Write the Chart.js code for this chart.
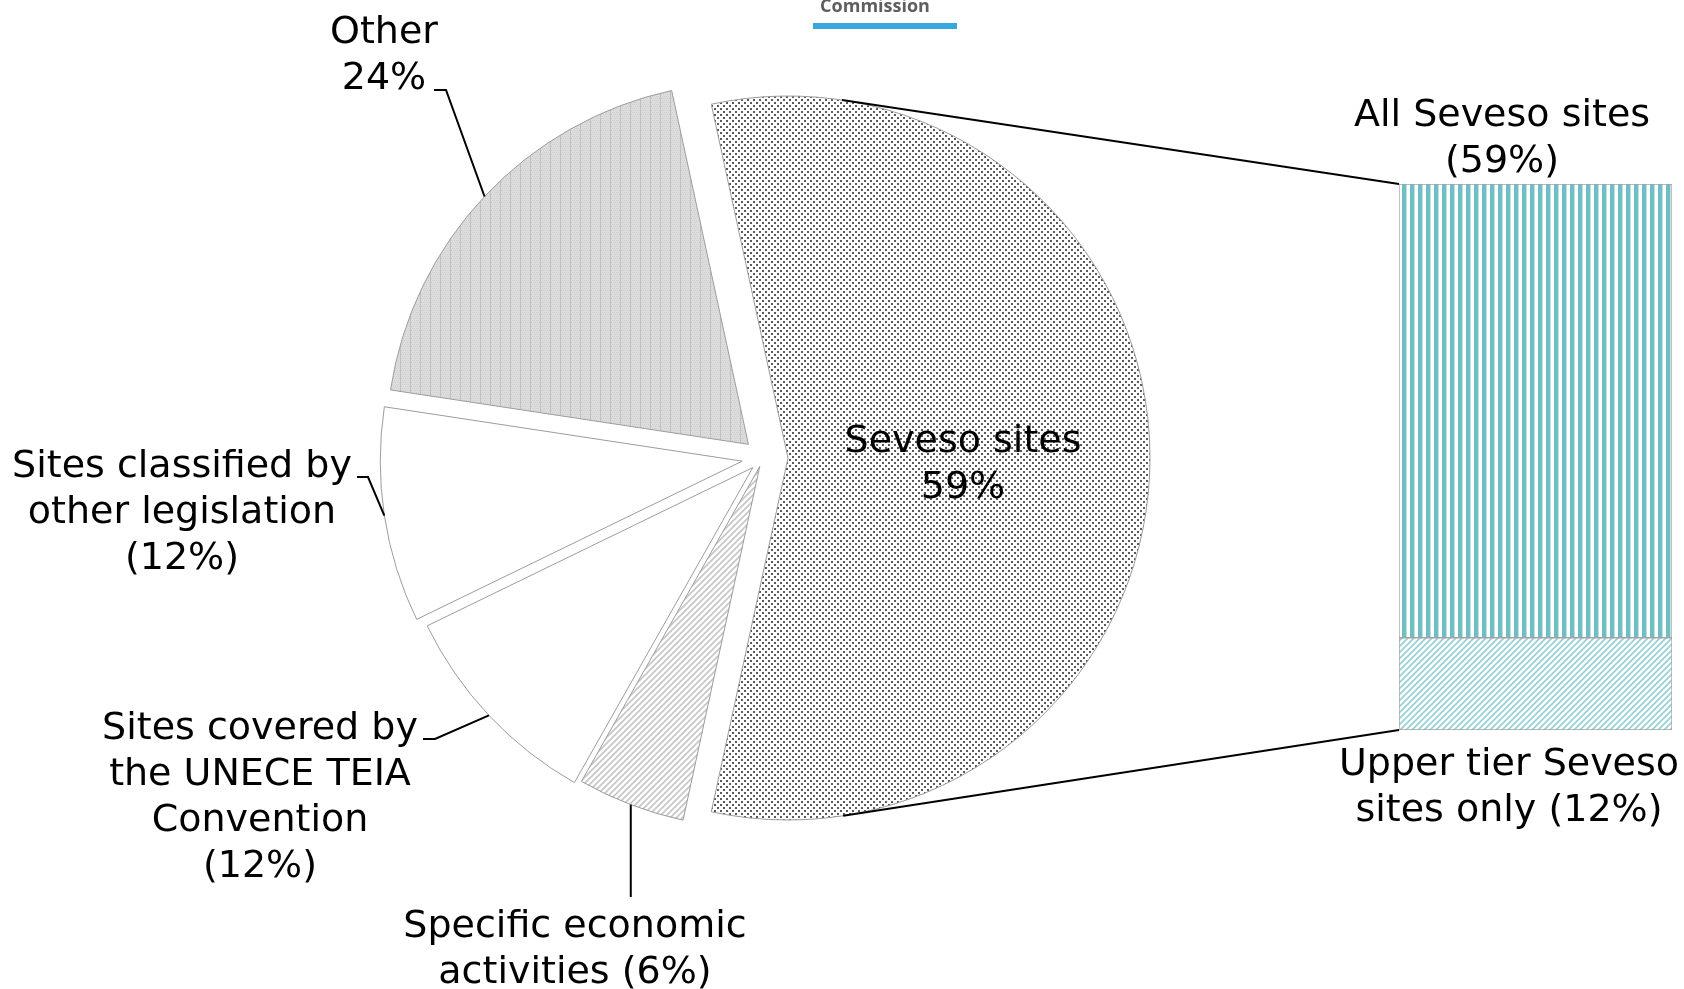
<!DOCTYPE html>
<html lang="en">
<head>
<meta charset="UTF-8">
<title>Seveso sites</title>
<style>
    body { margin: 0; background: #fff; }
    #wrap { position: relative; width: 1684px; height: 989px; overflow: hidden; }
    #wrap canvas { position: absolute; left: 0; top: 0; }
</style>
</head>
<body>
<div id="wrap">
    <canvas id="pieChart" width="1684" height="989"></canvas>
    <canvas id="barChart" width="1684" height="989"></canvas>
</div>

<script src="https://cdn.jsdelivr.net/npm/chart.js"></script>
<script>
    // pie slices, clockwise from the split-out slice
    const pieNames = ['Seveso sites', 'Specific economic activities', 'Sites covered by the UNECE TEIA Convention',
        'Sites classified by other legislation', 'Other'];
    const otherValues = [6, 12, 12, 24];

    // stacked bar, bottom to top
    const barNames = ['Upper tier Seveso sites only', 'All Seveso sites'];
    const barValues = [12, 59];

    // the Seveso slice holds everything shown in the bar
    const sevesoTotal = barValues.reduce((a, b) => a + b, 0);
    const pieValues = [sevesoTotal, ...otherValues];
    const pieTotal = pieValues.reduce((a, b) => a + b, 0);

    const pieText = [
        ['Seveso sites', barValues[1] + '%'],
        ['Specific economic', 'activities (' + otherValues[0] + '%)'],
        ['Sites covered by', 'the UNECE TEIA', 'Convention', '(' + otherValues[1] + '%)'],
        ['Sites classified by', 'other legislation', '(' + otherValues[2] + '%)'],
        ['Other', otherValues[3] + '%']
    ];
    const barText = [
        ['Upper tier Seveso', 'sites only (' + barValues[0] + '%)'],
        ['All Seveso sites', '(' + barValues[1] + '%)']
    ];

    // label placement: centre x, first line y, leader elbow points (null x = straight down from the slice)
    const pieLabelPos = [
        { x: 963, y: 442, leader: null },
        { x: 575, y: 927, leader: [[null, 897]] },
        { x: 260, y: 729, leader: [[423, 739], [435, 739]] },
        { x: 182, y: 467, leader: [[357, 477], [368, 477]] },
        { x: 384, y: 33, leader: [[434, 90], [446, 90]] }
    ];
    const barLabelPos = [{ x: 1509, y: 765 }, { x: 1502, y: 116 }];
    const explode = [25, 9, 14, 21, 20];

    const FONT = '38px "DejaVu Sans"';
    const LINE_H = 46;

    function makePattern(w, h, draw) {
        const c = document.createElement('canvas');
        c.width = w;
        c.height = h;
        const g = c.getContext('2d');
        g.fillStyle = '#fff';
        g.fillRect(0, 0, w, h);
        draw(g, w, h);
        return g.createPattern(c, 'repeat');
    }

    function diagonal(color, size, width) {
        return makePattern(size, size, g => {
            g.strokeStyle = color;
            g.lineWidth = width;
            g.beginPath();
            g.moveTo(-1, size + 1); g.lineTo(size + 1, -1);
            g.moveTo(-size / 2 - 1, size / 2 + 1); g.lineTo(size / 2 + 1, -size / 2 - 1);
            g.moveTo(size / 2 - 1, size * 1.5 + 1); g.lineTo(size * 1.5 + 1, size / 2 - 1);
            g.stroke();
        });
    }

    const dots = makePattern(6, 6, g => {
        g.fillStyle = '#5a5a5a';
        g.fillRect(0, 0, 2, 2);
        g.fillRect(3, 3, 2, 2);
    });
    const greyTexture = makePattern(10, 4, g => {
        g.fillStyle = '#dddddd';
        g.fillRect(0, 0, 10, 4);
        g.fillStyle = '#d0d0d0';
        for (let x = 0; x < 10; x += 2) {
            g.fillRect(x, 0, 1, 1);
            g.fillRect(x + 1, 2, 1, 1);
        }
        g.fillStyle = '#c0c0c0';
        g.fillRect(0, 0, 1, 4);
    });
    const greyHatch = diagonal('#c6c6c6', 6, 1.6);
    const tealHatch = diagonal('#93d1d5', 6, 1.6);
    const tealStripes = makePattern(8, 1, g => {
        g.fillStyle = '#6fbec4';
        g.fillRect(2, 0, 4, 1);
        g.fillStyle = '#bfe3e5';
        g.fillRect(6, 0, 1, 1);
    });

    function drawLines(ctx, lines, x, y) {
        ctx.save();
        ctx.font = FONT;
        ctx.fillStyle = '#000';
        ctx.textAlign = 'center';
        ctx.textBaseline = 'middle';
        lines.forEach((t, i) => ctx.fillText(t, x, y + i * LINE_H));
        ctx.restore();
    }

    // pushes every slice out along its middle angle
    const explodePlugin = {
        id: 'explode',
        afterDatasetUpdate(chart, args) {
            chart.getDatasetMeta(args.index).data.forEach((arc, i) => {
                const mid = (arc.startAngle + arc.endAngle) / 2;
                arc.x += Math.cos(mid) * explode[i];
                arc.y += Math.sin(mid) * explode[i];
            });
        }
    };

    const pieLabelsPlugin = {
        id: 'pieLabels',
        afterDraw(chart) {
            const ctx = chart.ctx;
            const arcs = chart.getDatasetMeta(0).data;

            arcs.forEach((arc, i) => {
                const pos = pieLabelPos[i];
                if (pos.leader) {
                    const mid = (arc.startAngle + arc.endAngle) / 2;
                    const ax = arc.x + Math.cos(mid) * arc.outerRadius;
                    const ay = arc.y + Math.sin(mid) * arc.outerRadius;
                    ctx.save();
                    ctx.strokeStyle = '#000';
                    ctx.lineWidth = 2;
                    ctx.beginPath();
                    pos.leader.forEach((p, k) => {
                        const px = p[0] === null ? ax : p[0];
                        k ? ctx.lineTo(px, p[1]) : ctx.moveTo(px, p[1]);
                    });
                    ctx.lineTo(ax, ay);
                    ctx.stroke();
                    ctx.restore();
                }
                drawLines(ctx, pieText[i], pos.x, pos.y);
            });

            // cut-off page header above the chart
            ctx.save();
            ctx.fillStyle = '#5f5f5f';
            ctx.font = 'bold 18px "Open Sans"';
            ctx.textAlign = 'center';
            ctx.textBaseline = 'alphabetic';
            ctx.fillText('Commission', 875, 12);
            ctx.fillStyle = '#38a7dc';
            ctx.fillRect(813, 23, 144, 6);
            ctx.restore();
        }
    };

    const pieChart = new Chart(document.getElementById('pieChart'), {
        type: 'pie',
        data: {
            labels: pieNames,
            datasets: [{
                data: pieValues,
                backgroundColor: [dots, greyHatch, '#ffffff', '#ffffff', greyTexture],
                borderColor: '#9c9c9c',
                borderWidth: 1,
                hoverOffset: 0
            }]
        },
        options: {
            responsive: false,
            animation: false,
            radius: 362,
            rotation: 90 - (sevesoTotal / pieTotal) * 180,
            layout: { padding: { left: 0, top: 0, right: 158, bottom: 73 } },
            plugins: {
                legend: { display: false },
                tooltip: { enabled: false }
            }
        },
        plugins: [explodePlugin, pieLabelsPlugin]
    });

    // tangent point on a circle seen from (px, py); side -1 upper, +1 lower
    function tangentPoint(cx, cy, r, px, py, side) {
        const dx = px - cx, dy = py - cy;
        const d = Math.hypot(dx, dy);
        const a = Math.atan2(dy, dx) + side * Math.acos(r / d);
        return [cx + Math.cos(a) * r, cy + Math.sin(a) * r];
    }

    const barLabelsPlugin = {
        id: 'barLabels',
        afterDraw(chart) {
            const ctx = chart.ctx;
            const arc = pieChart.getDatasetMeta(0).data[0];
            const topBar = chart.getDatasetMeta(1).data[0];
            const lowBar = chart.getDatasetMeta(0).data[0];
            const left = topBar.x - topBar.width / 2;

            ctx.save();
            ctx.strokeStyle = '#000';
            ctx.lineWidth = 2;
            [[topBar.y, -1], [lowBar.base, 1]].forEach(([y, side]) => {
                const t = tangentPoint(arc.x, arc.y, arc.outerRadius, left, y, side);
                ctx.beginPath();
                ctx.moveTo(t[0], t[1]);
                ctx.lineTo(left, y);
                ctx.stroke();
            });
            ctx.restore();

            barText.forEach((lines, i) => drawLines(ctx, lines, barLabelPos[i].x, barLabelPos[i].y));
        }
    };

    new Chart(document.getElementById('barChart'), {
        type: 'bar',
        data: {
            labels: ['Seveso sites'],
            datasets: [
                { label: barNames[0], data: [barValues[0]], backgroundColor: tealHatch },
                { label: barNames[1], data: [barValues[1]], backgroundColor: tealStripes }
            ]
        },
        options: {
            responsive: false,
            animation: false,
            barPercentage: 1,
            categoryPercentage: 1,
            borderColor: '#a3a3a3',
            borderWidth: 1,
            borderSkipped: false,
            layout: { padding: { left: 1399, top: 184, right: 12, bottom: 259 } },
            scales: {
                x: { stacked: true, display: false },
                y: { stacked: true, display: false, min: 0, max: sevesoTotal }
            },
            plugins: {
                legend: { display: false },
                tooltip: { enabled: false }
            }
        },
        plugins: [barLabelsPlugin]
    });
</script>
</body>
</html>
